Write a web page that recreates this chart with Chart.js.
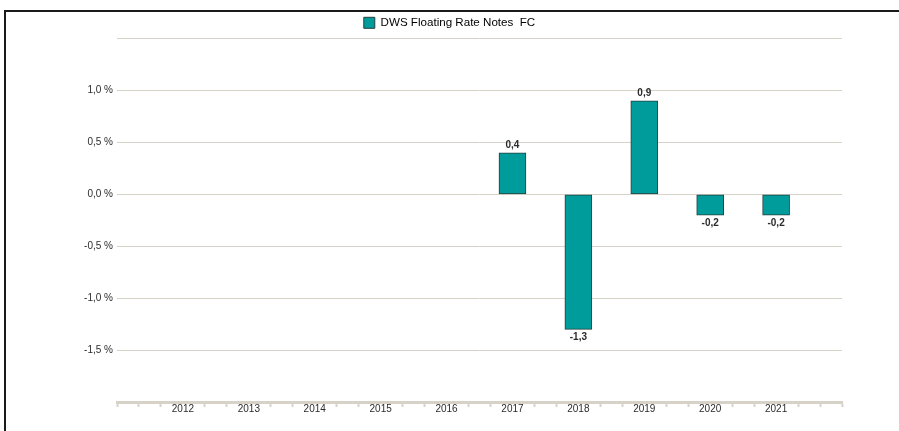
<!DOCTYPE html>
<html>
<head>
<meta charset="utf-8">
<script src="https://cdn.jsdelivr.net/npm/chart.js@4"></script>
<style>
  html, body { margin: 0; padding: 0; background: #fff; }
  #wrap { position: relative; width: 899px; height: 431px; overflow: hidden; }
  #frame {
    position: absolute; left: 4px; top: 10px; right: -10px; bottom: -10px;
    border-top: 2px solid #1a1a1a; border-left: 2px solid #1a1a1a;
  }
  canvas { position: absolute; left: 0; top: 0; }
</style>
</head>
<body>
<div id="wrap">
  <div id="frame"></div>
  <canvas id="perfChart" width="899" height="431"></canvas>
</div>
<script>
// ── Data ─────────────────────────────────

const years  = [2012, 2013, 2014, 2015, 2016, 2017, 2018, 2019, 2020, 2021];
const values = [null, null, null, null, null, 0.4, -1.3, 0.9, -0.2, -0.2];
const seriesName = 'DWS Floating Rate Notes  FC';

const yMin = -2.0, yMax = 1.5, yStep = 0.5;
const yLabelMin = -1.5, yLabelMax = 1.0;

const teal   = '#009c9c';
const edge   = '#24403f';
const grid   = '#d6d2c8';
const text   = '#2b2b2b';
const FONT   = '"Liberation Sans", Arial, sans-serif';

function fmt(v) {
  return v.toFixed(1).replace('.', ',');
}

// ── Value labels above / below bars ─────

const valueLabels = {
  id: 'valueLabels',
  afterDatasetsDraw(chart) {
    const c = chart.ctx;
    const meta = chart.getDatasetMeta(0);
    c.save();
    c.font = 'bold 10px ' + FONT;
    c.fillStyle = text;
    c.textAlign = 'center';
    meta.data.forEach((bar, i) => {
      const v = values[i];
      if (v === null) return;
      if (v >= 0) {
        c.textBaseline = 'bottom';
        c.fillText(fmt(v), bar.x, bar.y - 3);
      } else {
        c.textBaseline = 'top';
        c.fillText(fmt(v), bar.x, bar.y + 3);
      }
    });
    c.restore();
  }
};

// ── Chart ────────────────────────────────

const ctx = document.getElementById('perfChart').getContext('2d');
new Chart(ctx, {
  type: 'bar',
  data: {
    labels: years,
    datasets: [{
      label: seriesName,
      data: values,
      backgroundColor: teal,
      borderColor: edge,
      borderWidth: 1,
      borderSkipped: false,
      barThickness: 27
    }]
  },
  plugins: [valueLabels],
  options: {
    responsive: false,
    animation: false,
    layout: { padding: { top: 6, left: 0, right: 0, bottom: 0 } },
    plugins: {
      tooltip: { enabled: false },
      legend: {
        labels: {
          color: text,
          font: { family: FONT, size: 11.6 },
          boxWidth: 11,
          boxHeight: 11,
          padding: 11,
          generateLabels: (chart) => [{
            text: seriesName,
            fillStyle: teal,
            strokeStyle: edge,
            lineWidth: 1,
            datasetIndex: 0
          }]
        }
      }
    },
    scales: {
      x: {
        type: 'linear',
        offset: false,
        min: years[0] - 1,
        max: years[years.length - 1] + 1,
        afterBuildTicks(scale) {
          const ticks = [];
          for (let k = 0; k <= (scale.max - scale.min) * 3; k++) {
            ticks.push({ value: scale.min + k / 3 });
          }
          scale.ticks = ticks;
        },
        afterFit(scale) { scale.height = 29; },
        border: { color: grid, width: 3 },
        grid: {
          offset: false,
          drawOnChartArea: false,
          tickLength: 5,
          tickWidth: 2,
          tickColor: (c) => (c.tick && c.tick.label) ? 'rgba(0,0,0,0)' : grid
        },
        ticks: {
          autoSkip: false,
          maxRotation: 0,
          padding: -4,
          color: text,
          font: { family: FONT, size: 10 },
          callback: (v) => {
            const r = Math.round(v);
            return (Math.abs(v - r) < 1e-6 && years.includes(r)) ? String(r) : '';
          }
        }
      },
      y: {
        min: yMin,
        max: yMax,
        afterFit(scale) { scale.width = 117; },
        border: { display: false },
        grid: { color: grid, lineWidth: 1, drawTicks: false },
        ticks: {
          stepSize: yStep,
          padding: 4,
          color: text,
          font: { family: FONT, size: 10 },
          callback: (v) => (v >= yLabelMin - 1e-9 && v <= yLabelMax + 1e-9) ? fmt(v) + ' %' : ''
        }
      },
      yRight: {
        position: 'right',
        afterFit(scale) { scale.width = 57; },
        border: { display: false },
        grid: { display: false },
        ticks: { display: false }
      }
    }
  }
});
</script>
</body>
</html>
